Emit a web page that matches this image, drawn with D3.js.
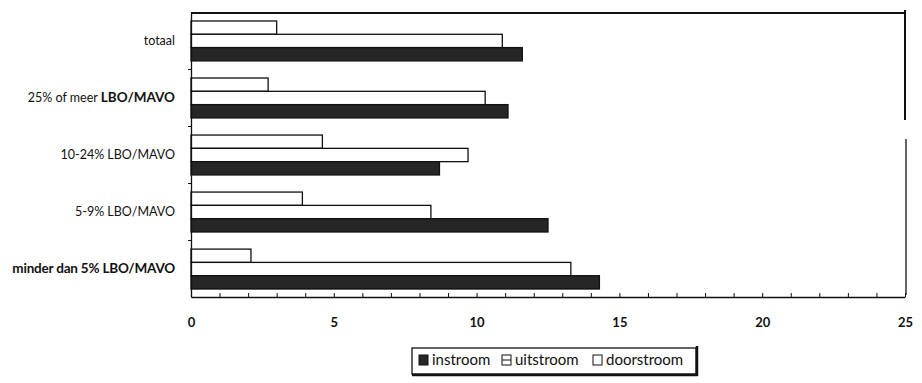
<!DOCTYPE html>
<html>
<head>
<meta charset="utf-8">
<script src="https://cdn.jsdelivr.net/npm/d3@7"></script>
<style>
  html, body { margin: 0; padding: 0; background: #fff; }
  svg { display: block; }
  text { font-family: Lato, "Open Sans", sans-serif; fill: #111; }
</style>
</head>
<body>
<svg id="chart" width="922" height="383"></svg>
<script>
// Categories (top to bottom)
const categories = [
  "totaal",
  "25% of meer LBO/MAVO",
  "10-24% LBO/MAVO",
  "5-9% LBO/MAVO",
  "minder dan 5% LBO/MAVO"
];
// Series values per category (%)
const instroom   = [11.6, 11.1, 8.7, 12.5, 14.3];
const uitstroom  = [10.9, 10.3, 9.7, 8.4, 13.3];
const doorstroom = [3.0, 2.7, 4.6, 3.9, 2.1];
const seriesNames = ["doorstroom", "uitstroom", "instroom"]; // drawn top to bottom inside a group
const legendNames = ["instroom", "uitstroom", "doorstroom"];
const xTicks = [0, 5, 10, 15, 20, 25];

const seriesValues = { instroom, uitstroom, doorstroom };
const fills = { instroom: "#262626", uitstroom: "#fff", doorstroom: "#fff" };

const svg = d3.select("#chart");
const plotLeft = 191, plotRight = 905, plotTop = 13, plotBottom = 297;

const x = d3.scaleLinear().domain([0, 25]).range([plotLeft, plotRight]);
const y = d3.scaleBand().domain(categories).range([plotTop, plotBottom])
  .paddingInner(0.3).paddingOuter(0.14);
const ySub = d3.scaleBand().domain(seriesNames).range([0, y.bandwidth()]);

// Bars
const groups = svg.append("g").selectAll("g")
  .data(categories)
  .join("g")
  .attr("transform", d => `translate(0,${y(d)})`);

groups.selectAll("rect")
  .data((c, i) => seriesNames.map(s => ({ s, v: seriesValues[s][i] })))
  .join("rect")
  .attr("x", x(0))
  .attr("y", d => ySub(d.s))
  .attr("width", d => x(d.v) - x(0))
  .attr("height", ySub.bandwidth())
  .attr("fill", d => fills[d.s])
  .attr("stroke", "#111")
  .attr("stroke-width", 1.3);

// Frame: top and right edges
svg.append("line").attr("x1", plotLeft).attr("x2", plotRight).attr("y1", plotTop).attr("y2", plotTop)
  .attr("stroke", "#111").attr("stroke-width", 2);
svg.append("line").attr("x1", plotRight).attr("x2", plotRight).attr("y1", plotTop - 3).attr("y2", 120)
  .attr("stroke", "#111").attr("stroke-width", 2);
svg.append("line").attr("x1", plotRight + 1).attr("x2", plotRight + 1).attr("y1", 139).attr("y2", plotBottom - 2)
  .attr("stroke", "#111").attr("stroke-width", 1.3);

// Category axis (left)
const yAxis = svg.append("g").attr("transform", `translate(${plotLeft},0)`)
  .call(d3.axisLeft(y).tickSize(0).tickPadding(16));
yAxis.select(".domain").attr("stroke", "#111").attr("stroke-width", 1.3);
yAxis.selectAll("text")
  .style("font-size", d => d.startsWith("minder") ? "13.5px" : "12.5px")
  .attr("font-weight", d => d.startsWith("minder") ? "700" : "400")
  .attr("letter-spacing", d => d.startsWith("minder") ? "-0.2" : "0");
// "LBO/MAVO" set heavier in the 25% label
yAxis.selectAll("text").filter(d => d.startsWith("25%"))
  .text(null)
  .call(t => {
    t.append("tspan").text("25% of meer ");
    t.append("tspan").attr("font-weight", "700").style("font-size", "13.5px").text("LBO/MAVO");
  });

// small marks between category bands
const bounds = categories.slice(1).map(c => y(c) - y.step() * y.paddingInner() / 2);
svg.append("g").selectAll("line").data(bounds).join("line")
  .attr("x1", plotLeft - 3).attr("x2", plotLeft).attr("y1", d => d).attr("y2", d => d)
  .attr("stroke", "#111");

// Value axis (bottom)
const xAxis = svg.append("g").attr("transform", `translate(0,${plotBottom})`)
  .call(d3.axisBottom(x).tickValues(xTicks).tickSize(0).tickPadding(21).tickFormat(d3.format("d")));
xAxis.select(".domain").attr("stroke", "#111").attr("stroke-width", 1.3);
xAxis.selectAll("text").style("font-size", "13px").attr("font-weight", "700");

// minor ticks every unit, pointing inward
svg.append("g").attr("transform", `translate(0,${plotBottom})`)
  .call(d3.axisBottom(x).ticks(25).tickSize(-4).tickFormat(""))
  .call(g => g.select(".domain").remove())
  .selectAll("line").attr("stroke", "#111");

// Legend
const lg = svg.append("g").attr("transform", "translate(412,348)");
lg.append("rect").attr("x", 0).attr("y", 0).attr("width", 284).attr("height", 26)
  .attr("fill", "#fff").attr("stroke", "#111").attr("stroke-width", 1.3);
lg.append("line").attr("x1", 0).attr("x2", 286).attr("y1", 27).attr("y2", 27)
  .attr("stroke", "#111").attr("stroke-width", 2.5);
lg.append("line").attr("x1", 285).attr("x2", 285).attr("y1", -2).attr("y2", 28)
  .attr("stroke", "#111").attr("stroke-width", 2.5);
const legendX = [7, 90, 181];
const items = lg.selectAll("g.item").data(legendNames).join("g")
  .attr("class", "item")
  .attr("transform", (d, i) => `translate(${legendX[i]},0)`);
items.append("rect").attr("x", 0).attr("y", 7).attr("width", 9).attr("height", 10)
  .attr("fill", d => fills[d]).attr("stroke", "#111").attr("stroke-width", 1);
items.filter(d => d === "uitstroom").append("line")
  .attr("x1", 0).attr("x2", 9).attr("y1", 12).attr("y2", 12).attr("stroke", "#111");
items.append("text").attr("x", 13).attr("y", 12).attr("dy", "0.35em")
  .style("font-size", "15px").text(d => d);
</script>
</body>
</html>
